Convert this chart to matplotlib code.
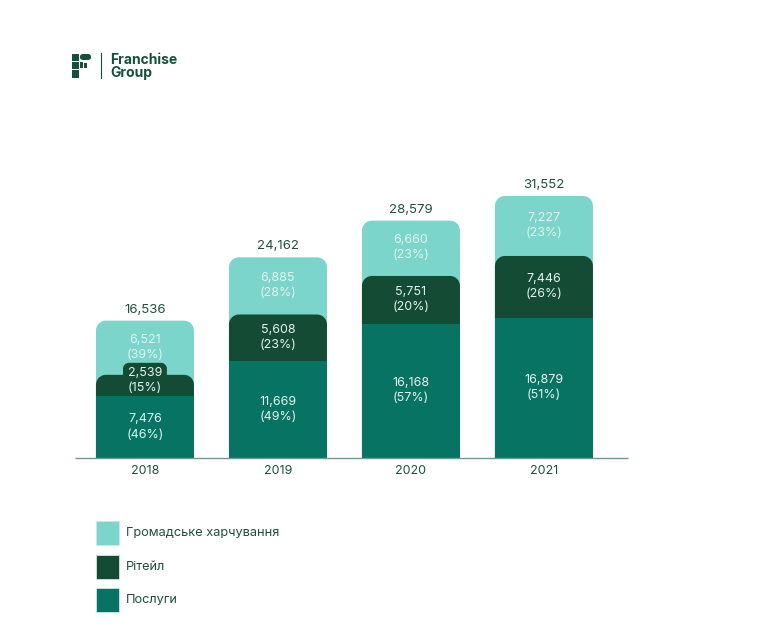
import matplotlib

matplotlib.use("Agg")
import matplotlib.pyplot as plt
import numpy as np
from matplotlib.patches import Polygon, Rectangle, FancyBboxPatch

plt.rcParams["font.family"] = ["Inter", "DejaVu Sans"]

# data
years = ["2018", "2019", "2020", "2021"]
services = [7476, 11669, 16168, 16879]
retail = [2539, 5608, 5751, 7446]
catering = [6521, 6885, 6660, 7227]
services_pct = ["46%", "49%", "57%", "51%"]
retail_pct = ["15%", "23%", "20%", "26%"]
catering_pct = ["39%", "28%", "23%", "23%"]
totals = [16536, 24162, 28579, 31552]
legend_labels = ["Громадське харчування", "Рітейл", "Послуги"]

C_LIGHT = "#7bd5ca"
C_DARK = "#144b35"
C_MID = "#077363"
C_TEXT = "#1f503e"
C_INNER = "#e4f3ef"

W, H = 764, 633
fig = plt.figure(figsize=(W / 100, H / 100), dpi=100)
fig.patch.set_facecolor("white")


def fx(px):
    return px / W


def fy(py):
    return 1 - py / H


# axes placed in pixel terms (top-origin)
ax = fig.add_axes([fx(75), fy(458), fx(628) - fx(75), (458 - 159) / H])
ax.set_xlim(-0.526, 3.632)
ax.set_ylim(0, 36000)
ax.axis("off")
bar_w = 0.737


def rounded_top(ax, xc, y0, y1, w, r_px, color, zorder=2):
    """Bar segment with rounded top corners, built in display space."""
    tr = ax.transData
    xl, yb = tr.transform((xc - w / 2, y0))
    xr, yt = tr.transform((xc + w / 2, y1))
    r = min(r_px, yt - yb, (xr - xl) / 2)
    pts = [(xl, yb), (xl, yt - r)]
    for a in np.linspace(np.pi, np.pi / 2, 12):
        pts.append((xl + r + r * np.cos(a), yt - r + r * np.sin(a)))
    for a in np.linspace(np.pi / 2, 0, 12):
        pts.append((xr - r + r * np.cos(a), yt - r + r * np.sin(a)))
    pts.append((xr, yb))
    data_pts = tr.inverted().transform(pts)
    ax.add_patch(Polygon(data_pts, closed=True, facecolor=color,
                         edgecolor="none", zorder=zorder))


x = np.arange(len(years))
tops_mid = np.array(services, dtype=float)
tops_dark = tops_mid + np.array(retail)
tops_light = tops_dark + np.array(catering)

for i in x:
    rounded_top(ax, i, 0, tops_light[i], bar_w, 10, C_LIGHT, zorder=2)
    rounded_top(ax, i, 0, tops_dark[i], bar_w, 10, C_DARK, zorder=3)
    ax.add_patch(Rectangle((i - bar_w / 2, 0), bar_w, tops_mid[i],
                           facecolor=C_MID, edgecolor="none", zorder=4))

# pixels per data unit, for small offsets
px_per_unit = (ax.transData.transform((0, 1000))[1]
               - ax.transData.transform((0, 0))[1]) / 1000

label_kw = dict(ha="center", va="center", fontsize=9, color=C_INNER,
                linespacing=1.35, zorder=6)
for i in x:
    # catering
    ax.text(i, (tops_dark[i] + tops_light[i]) / 2 + 0.5 / px_per_unit,
            f"{catering[i]:,}\n({catering_pct[i]})", **label_kw)
    # retail
    seg_h_px = retail[i] * px_per_unit
    cy = (tops_mid[i] + tops_dark[i]) / 2
    if seg_h_px < 30:
        # small pad behind the label so the text fits
        pad_top = tops_dark[i] + 12 / px_per_unit
        rounded_top(ax, i, tops_mid[i], pad_top, 0.33, 6, C_DARK, zorder=3)
        cy = tops_mid[i] + (pad_top - tops_mid[i]) / 2 - 1 / px_per_unit
    ax.text(i, cy, f"{retail[i]:,}\n({retail_pct[i]})", **label_kw)
    # services
    ax.text(i, tops_mid[i] / 2, f"{services[i]:,}\n({services_pct[i]})", **label_kw)
    # total
    ax.text(i, tops_light[i] + 5 / px_per_unit, f"{totals[i]:,}", ha="center",
            va="bottom", fontsize=9.5, color=C_TEXT, zorder=6)
    # year
    ax.text(i, -13 / px_per_unit, years[i], ha="center", va="center",
            fontsize=9, color=C_TEXT, clip_on=False)

# baseline
ax.plot([-0.526, 3.632], [0, 0], color="#6f9a90", lw=1.0, zorder=5,
        clip_on=False, solid_capstyle="butt")

# legend
legend_colors = [C_LIGHT, C_DARK, C_MID]
legend_y = [521, 555, 588]
for lab, col, ly in zip(legend_labels, legend_colors, legend_y):
    fig.patches.append(Rectangle((fx(96), fy(ly + 24)), 23 / W, 24 / H,
                                 transform=fig.transFigure, facecolor=col,
                                 edgecolor="#cfe9e3", lw=0.6))
    fig.text(fx(126), fy(ly + 12), lab, ha="left", va="center",
             fontsize=9.2, color=C_TEXT)

# logo
LOGO = "#14503a"
for (x0, y0, w, h) in [(72, 54, 7, 7), (72, 62, 7, 7), (72, 70, 7, 8),
                       (80, 62, 3, 6), (84, 63, 3, 5)]:
    fig.patches.append(Rectangle((fx(x0), fy(y0 + h)), w / W, h / H,
                                 transform=fig.transFigure, facecolor=LOGO,
                                 edgecolor="none"))
fig.patches.append(FancyBboxPatch((fx(80), fy(60)), 11 / W, 6 / H,
                                  boxstyle="round,pad=0,rounding_size=0.004",
                                  transform=fig.transFigure, facecolor=LOGO,
                                  edgecolor="none"))
fig.add_artist(plt.Line2D([fx(100.5), fx(100.5)], [fy(53), fy(78)],
                          transform=fig.transFigure, color=LOGO, lw=0.8))
fig.text(fx(110), fy(60), "Franchise", ha="left", va="center", fontsize=10,
         fontweight="bold", color=LOGO)
fig.text(fx(110), fy(73), "Group", ha="left", va="center", fontsize=10,
         fontweight="bold", color=LOGO)

fig.savefig("out.png", dpi=100, facecolor="white")
